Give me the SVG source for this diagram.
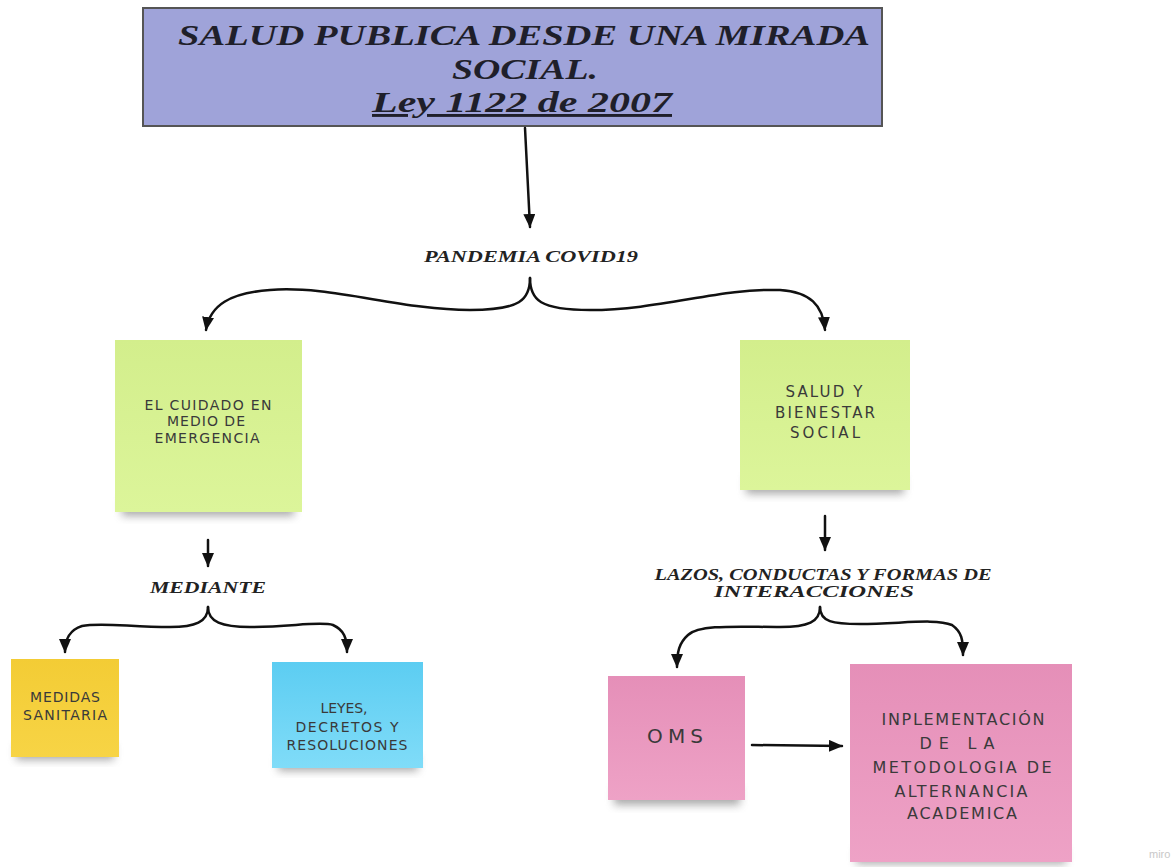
<svg xmlns="http://www.w3.org/2000/svg" width="1176" height="867" viewBox="0 0 1176 867">
<style>
.title{font-family:"Liberation Serif",serif;font-weight:bold;font-style:italic;fill:#1f1f2a;text-anchor:middle;font-size:29px}
.lbl{font-family:"Liberation Serif",serif;font-weight:bold;font-style:italic;fill:#222;text-anchor:middle;font-size:17px}
.note{font-family:"DejaVu Sans","Liberation Sans",sans-serif;fill:#3a3a3a;text-anchor:middle}
.conn{fill:none;stroke:#111;stroke-width:2.5;stroke-linecap:round}
.shadow{fill:#666;opacity:0.55}
</style>
<defs>
<marker id="ah" markerUnits="userSpaceOnUse" markerWidth="14" markerHeight="12" refX="13" refY="6" orient="auto">
<path d="M0,0 L14,6 L0,12 z" fill="#111"/>
</marker>
<filter id="sh" x="-20%" y="-20%" width="140%" height="160%">
<feGaussianBlur stdDeviation="4"/>
</filter>
<linearGradient id="gGreen" x1="0" y1="0" x2="0" y2="1"><stop offset="0" stop-color="#d3ee8c"/><stop offset="1" stop-color="#dcf59a"/></linearGradient>
<linearGradient id="gBlue" x1="0" y1="0" x2="0" y2="1"><stop offset="0" stop-color="#5ccdf2"/><stop offset="1" stop-color="#80dcf8"/></linearGradient>
<linearGradient id="gPink" x1="0" y1="0" x2="0" y2="1"><stop offset="0" stop-color="#e58fb8"/><stop offset="1" stop-color="#eea2c6"/></linearGradient>
<linearGradient id="gYellow" x1="0" y1="0" x2="0" y2="1"><stop offset="0" stop-color="#f3cc35"/><stop offset="1" stop-color="#f7d445"/></linearGradient>
</defs>
<rect width="1176" height="867" fill="#ffffff"/>

<g id="title">
<rect x="143" y="8" width="739" height="118" fill="#9fa3d9" stroke="#555" stroke-width="2"/>
<text class="title" x="524" y="45" textLength="692" lengthAdjust="spacingAndGlyphs">SALUD PUBLICA DESDE UNA MIRADA</text>
<text class="title" x="525" y="79" textLength="146" lengthAdjust="spacingAndGlyphs">SOCIAL.</text>
<text class="title" x="522" y="112" textLength="300" lengthAdjust="spacingAndGlyphs" text-decoration="underline">Ley 1122 de 2007</text>
</g>

<g id="pandemia">
<text class="lbl" x="531" y="262" textLength="214" lengthAdjust="spacingAndGlyphs">PANDEMIA COVID19</text>
</g>

<g id="cuidado">
<rect class="shadow" x="122" y="498" width="172" height="18" filter="url(#sh)"/>
<rect x="115" y="340" width="187" height="172" fill="url(#gGreen)"/>
<g style="font-size:14px">
<text class="note" x="208" y="410" textLength="127" lengthAdjust="spacing">EL CUIDADO EN</text>
<text class="note" x="206" y="426" textLength="78" lengthAdjust="spacing">MEDIO DE</text>
<text class="note" x="207" y="443" textLength="105" lengthAdjust="spacing">EMERGENCIA</text>
</g>
</g>

<g id="salud">
<rect class="shadow" x="746" y="476" width="158" height="18" filter="url(#sh)"/>
<rect x="740" y="340" width="170" height="150" fill="url(#gGreen)"/>
<g style="font-size:15px">
<text class="note" x="824" y="397" textLength="77" lengthAdjust="spacing">SALUD Y</text>
<text class="note" x="825" y="418" textLength="100" lengthAdjust="spacing">BIENESTAR</text>
<text class="note" x="825" y="438" textLength="70" lengthAdjust="spacing">SOCIAL</text>
</g>
</g>

<g id="mediante">
<text class="lbl" x="208" y="593" textLength="116" lengthAdjust="spacingAndGlyphs">MEDIANTE</text>
</g>

<g id="medidas">
<rect class="shadow" x="16" y="744" width="98" height="16" filter="url(#sh)"/>
<rect x="11" y="659" width="108" height="98" fill="url(#gYellow)"/>
<g style="font-size:14px">
<text class="note" x="65" y="702" textLength="70" lengthAdjust="spacing">MEDIDAS</text>
<text class="note" x="65" y="720" textLength="84" lengthAdjust="spacing">SANITARIA</text>
</g>
</g>

<g id="leyes">
<rect class="shadow" x="278" y="755" width="140" height="16" opacity="0.45" filter="url(#sh)"/>
<rect x="272" y="662" width="151" height="106" fill="url(#gBlue)"/>
<g style="font-size:14px">
<text class="note" x="344" y="713" textLength="47" lengthAdjust="spacing">LEYES,</text>
<text class="note" x="347" y="732" textLength="103" lengthAdjust="spacing">DECRETOS Y</text>
<text class="note" x="347" y="750" textLength="121" lengthAdjust="spacing">RESOLUCIONES</text>
</g>
</g>

<g id="lazos">
<text class="lbl" x="823" y="580" textLength="337" lengthAdjust="spacingAndGlyphs">LAZOS, CONDUCTAS Y FORMAS DE</text>
<text class="lbl" x="814" y="597" textLength="200" lengthAdjust="spacingAndGlyphs">INTERACCIONES</text>
</g>

<g id="oms">
<rect class="shadow" x="614" y="787" width="126" height="18" filter="url(#sh)"/>
<rect x="608" y="676" width="137" height="124" fill="url(#gPink)"/>
<text class="note" x="675" y="743" style="font-size:20px" textLength="56" lengthAdjust="spacing">OMS</text>
</g>

<g id="inplementacion">
<rect class="shadow" x="856" y="848" width="210" height="16" opacity="0.4" filter="url(#sh)"/>
<rect x="850" y="664" width="222" height="198" fill="url(#gPink)"/>
<g style="font-size:16px">
<text class="note" x="963" y="725" textLength="163" lengthAdjust="spacing">INPLEMENTACIÓN</text>
<text class="note" x="957" y="749" textLength="75" lengthAdjust="spacing">DE  LA</text>
<text class="note" x="962" y="773" textLength="179" lengthAdjust="spacing">METODOLOGIA DE</text>
<text class="note" x="961" y="797" textLength="133" lengthAdjust="spacing">ALTERNANCIA</text>
<text class="note" x="962" y="819" textLength="110" lengthAdjust="spacing">ACADEMICA</text>
</g>
</g>

<g id="connectors">
<path class="conn" d="M525,128 L530,227" marker-end="url(#ah)"/>
<path class="conn" d="M530,278 C530,300 520,310 470,310 C400,310 330,285 270,290 C230,293 210,305 206,330" marker-end="url(#ah)"/>
<path class="conn" d="M530,278 C530,300 540,310 590,310 C660,310 720,288 780,290 C810,292 823,305 825,330" marker-end="url(#ah)"/>
<path class="conn" d="M208,540 L208,566" marker-end="url(#ah)"/>
<path class="conn" d="M208,607 C208,622 195,627 170,627 C130,627 100,622 82,626 C70,630 65,638 65,652" marker-end="url(#ah)"/>
<path class="conn" d="M208,607 C208,622 222,627 250,627 C290,627 320,621 333,625 C344,630 347,638 347,652" marker-end="url(#ah)"/>
<path class="conn" d="M825,516 L825,550" marker-end="url(#ah)"/>
<path class="conn" d="M820,607 C820,622 808,627 780,627 C740,627 700,624 688,635 C679,643 677,652 677,667" marker-end="url(#ah)"/>
<path class="conn" d="M820,607 C820,622 833,624 860,624 C900,624 935,618 952,625 C962,632 963,640 963,655" marker-end="url(#ah)"/>
<path class="conn" d="M752,745 L842,746" marker-end="url(#ah)"/>
</g>

<text x="1149" y="858" font-family="Liberation Sans, sans-serif" font-size="11" fill="#c8c8c8">miro</text>
</svg>
